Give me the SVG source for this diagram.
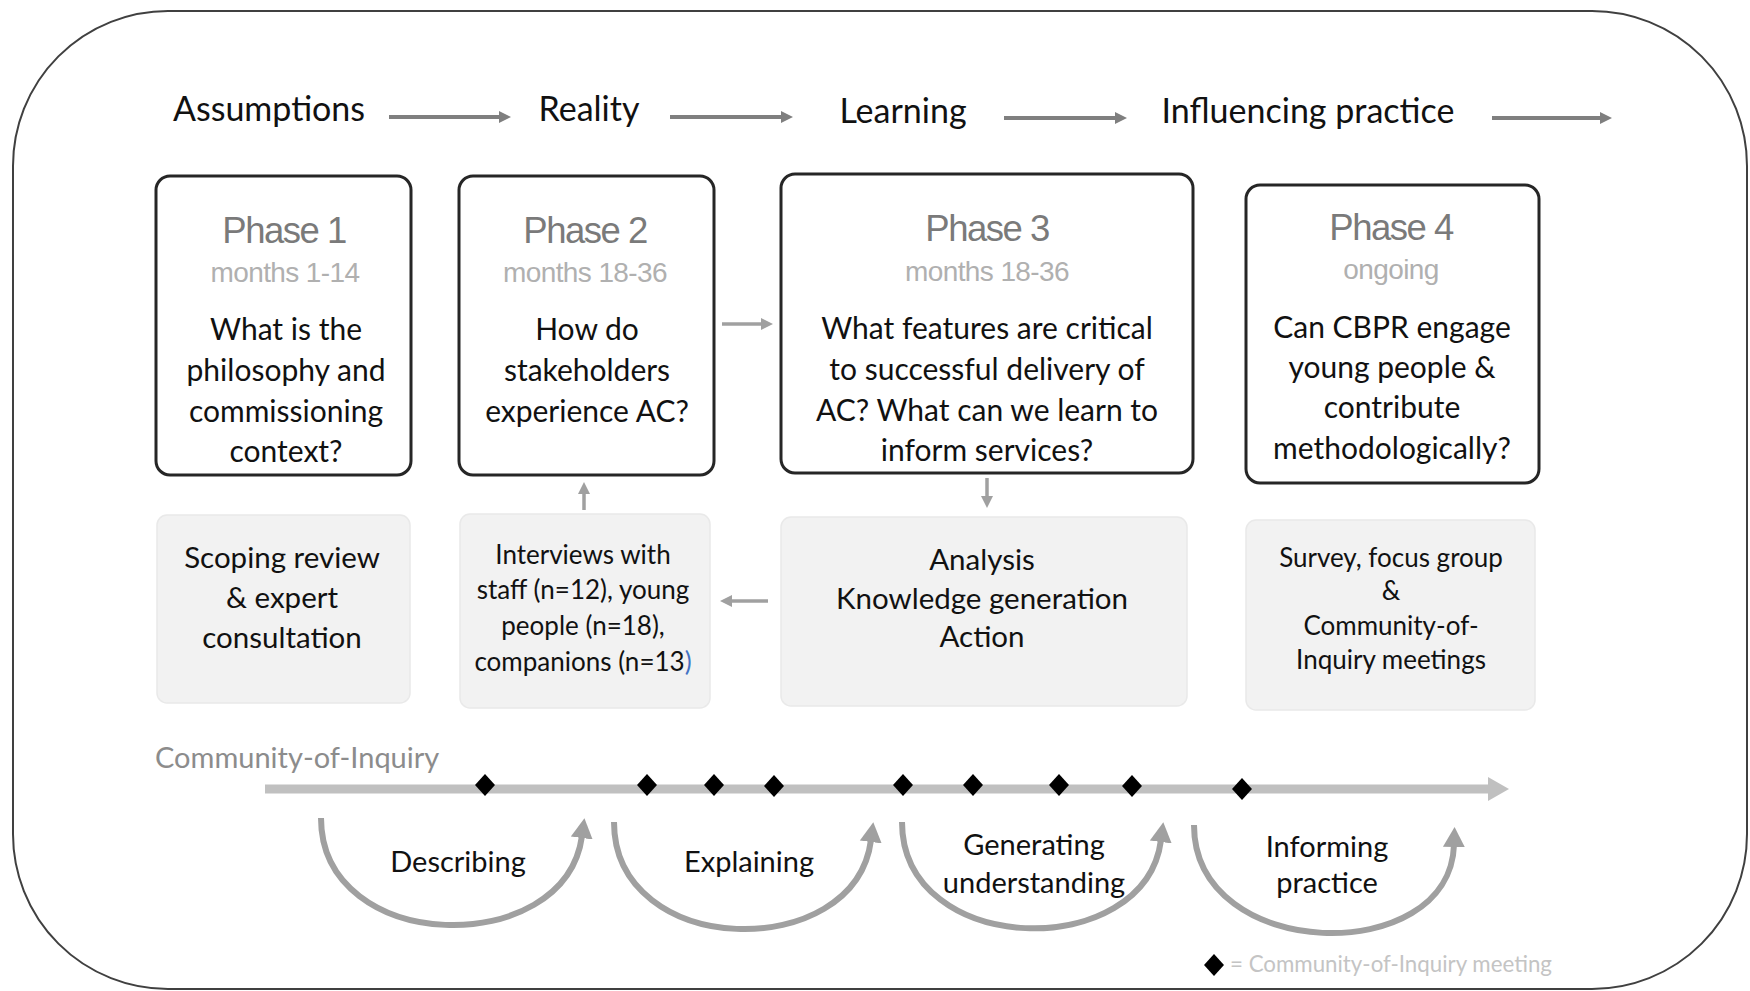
<svg xmlns="http://www.w3.org/2000/svg" width="1750" height="991" viewBox="0 0 1750 991">
  <defs>
    <style>
      .frame { fill: #ffffff; stroke: #404040; stroke-width: 2; }
      .phase { fill: #ffffff; stroke: #262626; stroke-width: 3; }
      .method { fill: #f2f2f2; stroke: #e9e9e9; stroke-width: 1.5; }
      .stage { font-family: Lato, "Liberation Sans", sans-serif; font-size: 34px; fill: #111111; text-anchor: middle; }
      .ptitle { font-family: "Liberation Sans", Arial, sans-serif; font-size: 36.5px; fill: #7a7a7a; letter-spacing: -1.5px; text-anchor: middle; }
      .pmonths { font-family: "Liberation Sans", Arial, sans-serif; font-size: 28px; fill: #b0b0b0; letter-spacing: -0.6px; text-anchor: middle; }
      .q { font-family: Lato, "Liberation Sans", sans-serif; font-size: 30px; fill: #111111; text-anchor: middle; }
      .m { font-family: Lato, "Liberation Sans", sans-serif; font-size: 29.5px; fill: #111111; text-anchor: middle; }
      .c { font-family: Lato, "Liberation Sans", sans-serif; font-size: 29px; fill: #111111; text-anchor: middle; }
      .qs { font-family: Lato, "Liberation Sans", sans-serif; font-size: 26px; fill: #111111; text-anchor: middle; }
      .coi { font-family: Lato, "Liberation Sans", sans-serif; font-size: 29px; fill: #8c8c8c; }
      .legend { font-family: Lato, "Liberation Sans", sans-serif; font-size: 22.3px; fill: #c4c4c4; }
      .flow { stroke: #7f7f7f; stroke-width: 4; fill: none; marker-end: url(#headDark); }
      .link { stroke: #a0a0a0; stroke-width: 3.5; fill: none; marker-end: url(#headLight); }
      .cycle { stroke: #a0a0a0; stroke-width: 6; fill: none; marker-end: url(#headArc); }
    </style>
    <marker id="headDark" markerUnits="userSpaceOnUse" viewBox="0 -7 13 14" markerWidth="13" markerHeight="14" refX="1" refY="0" orient="auto">
      <path d="M0,-6 L12,0 L0,6Z" fill="#7f7f7f"/>
    </marker>
    <marker id="headLight" markerUnits="userSpaceOnUse" viewBox="0 -7 13 14" markerWidth="13" markerHeight="14" refX="1" refY="0" orient="auto">
      <path d="M0,-6 L12,0 L0,6Z" fill="#a0a0a0"/>
    </marker>
    <marker id="headArc" markerUnits="userSpaceOnUse" viewBox="0 -12 22 24" markerWidth="22" markerHeight="24" refX="2" refY="0" orient="auto">
      <path d="M0,-11 L20,0 L0,11Z" fill="#a0a0a0"/>
    </marker>
    <path id="gem" d="M0,-11 L10,0 L0,11 L-10,0Z" fill="#000000"/>
  </defs>

  <!-- outer frame -->
  <rect class="frame" x="13" y="11" width="1734" height="978" rx="155" ry="155"/>

  <!-- stage headings -->
  <g id="stages">
    <text class="stage" x="269" y="121">Assumptions</text>
    <text class="stage" x="589" y="121">Reality</text>
    <text class="stage" x="903" y="123">Learning</text>
    <text class="stage" x="1308" y="123">Influencing practice</text>
  </g>

  <!-- phase 1 -->
  <g id="phase1">
    <rect class="phase" x="156" y="176" width="255" height="299" rx="14"/>
    <text class="ptitle" x="284" y="243">Phase 1</text>
    <text class="pmonths" x="285" y="282">months 1-14</text>
    <text class="q" x="286" y="340">What is the</text>
    <text class="q" x="286" y="381">philosophy and</text>
    <text class="q" x="286" y="422">commissioning</text>
    <text class="q" x="286" y="462">context?</text>
  </g>

  <!-- phase 2 -->
  <g id="phase2">
    <rect class="phase" x="459" y="176" width="255" height="299" rx="14"/>
    <text class="ptitle" x="585" y="243">Phase 2</text>
    <text class="pmonths" x="585" y="282">months 18-36</text>
    <text class="q" x="587" y="340">How do</text>
    <text class="q" x="587" y="381">stakeholders</text>
    <text class="q" x="587" y="422">experience AC?</text>
  </g>

  <!-- phase 3 -->
  <g id="phase3">
    <rect class="phase" x="781" y="174" width="412" height="299" rx="14"/>
    <text class="ptitle" x="987" y="241">Phase 3</text>
    <text class="pmonths" x="987" y="281">months 18-36</text>
    <text class="q" x="987" y="339">What features are critical</text>
    <text class="q" x="987" y="380">to successful delivery of</text>
    <text class="q" x="987" y="421">AC? What can we learn to</text>
    <text class="q" x="987" y="461">inform services?</text>
  </g>

  <!-- phase 4 -->
  <g id="phase4">
    <rect class="phase" x="1246" y="185" width="293" height="298" rx="14"/>
    <text class="ptitle" x="1391" y="240">Phase 4</text>
    <text class="pmonths" x="1391" y="279">ongoing</text>
    <text class="q" x="1392" y="338">Can CBPR engage</text>
    <text class="q" x="1392" y="378">young people &amp;</text>
    <text class="q" x="1392" y="418">contribute</text>
    <text class="q" x="1392" y="459">methodologically?</text>
  </g>

  <!-- methods -->
  <g id="method1">
    <rect class="method" x="157" y="515" width="253" height="188" rx="10"/>
    <text class="m" x="282" y="568">Scoping review</text>
    <text class="m" x="282" y="608">&amp; expert</text>
    <text class="m" x="282" y="648">consultation</text>
  </g>
  <g id="method2">
    <rect class="method" x="460" y="514" width="250" height="194" rx="10"/>
    <text class="qs" x="583" y="564">Interviews with</text>
    <text class="qs" x="583" y="599">staff (n=12), young</text>
    <text class="qs" x="583" y="635">people (n=18),</text>
    <text class="qs" x="583" y="671">companions (n=13<tspan fill="#4472c4">)</tspan></text>
  </g>
  <g id="method3">
    <rect class="method" x="781" y="517" width="406" height="189" rx="10"/>
    <text class="m" x="982" y="570">Analysis</text>
    <text class="m" x="982" y="609">Knowledge generation</text>
    <text class="m" x="982" y="647">Action</text>
  </g>
  <g id="method4">
    <rect class="method" x="1246" y="520" width="289" height="190" rx="10"/>
    <text class="qs" x="1391" y="567">Survey, focus group</text>
    <text class="qs" x="1391" y="600">&amp;</text>
    <text class="qs" x="1391" y="635">Community-of-</text>
    <text class="qs" x="1391" y="669">Inquiry meetings</text>
  </g>

  <!-- connectors -->
  <g id="connectors">
    <line class="flow" x1="389" y1="117" x2="500" y2="117"/>
    <line class="flow" x1="670" y1="117" x2="782" y2="117"/>
    <line class="flow" x1="1004" y1="118" x2="1116" y2="118"/>
    <line class="flow" x1="1492" y1="118" x2="1601" y2="118"/>
    <line class="link" x1="722" y1="324" x2="762" y2="324"/>
    <line class="link" x1="584" y1="510" x2="584" y2="493"/>
    <line class="link" x1="987" y1="478" x2="987" y2="497"/>
    <line class="link" x1="768" y1="601" x2="731" y2="601"/>
  </g>

  <!-- community-of-inquiry timeline -->
  <g id="timeline">
    <text class="coi" x="155" y="768">Community-of-Inquiry</text>
    <line x1="265" y1="789" x2="1490" y2="789" stroke="#c0c0c0" stroke-width="9"/>
    <path d="M1488,777 L1509,789 L1488,801Z" fill="#c0c0c0"/>
    <use href="#gem" x="485" y="785"/>
    <use href="#gem" x="647" y="785"/>
    <use href="#gem" x="714" y="785"/>
    <use href="#gem" x="774" y="786"/>
    <use href="#gem" x="903" y="785"/>
    <use href="#gem" x="973" y="785"/>
    <use href="#gem" x="1059" y="785"/>
    <use href="#gem" x="1132" y="786"/>
    <use href="#gem" x="1242" y="789"/>
  </g>

  <!-- research cycles -->
  <g id="cycle1">
    <path class="cycle" d="M321,818 C321,955 565,960 582,836"/>
    <text class="c" x="458" y="872">Describing</text>
  </g>
  <g id="cycle2">
    <path class="cycle" d="M614,822 C614,959 855,964 871,840"/>
    <text class="c" x="749" y="872">Explaining</text>
  </g>
  <g id="cycle3">
    <path class="cycle" d="M902,822 C902,958 1145,963 1161,840"/>
    <text class="c" x="1034" y="855">Generating</text>
    <text class="c" x="1034" y="893">understanding</text>
  </g>
  <g id="cycle4">
    <path class="cycle" d="M1194,825 C1194,963 1450,968 1454,845"/>
    <text class="c" x="1327" y="857">Informing</text>
    <text class="c" x="1327" y="893">practice</text>
  </g>

  <!-- legend -->
  <g id="legend">
    <use href="#gem" x="1214" y="965"/>
    <text class="legend" x="1230" y="972">= Community-of-Inquiry meeting</text>
  </g>
</svg>
